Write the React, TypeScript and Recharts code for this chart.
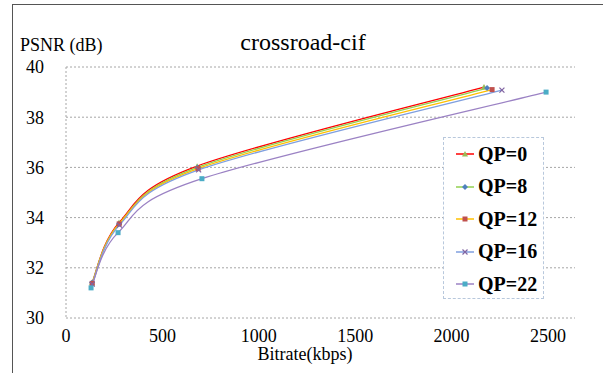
import React from 'react';
import {
  LineChart,
  Line,
  XAxis,
  YAxis,
  CartesianGrid,
} from 'recharts';

// bitrate (kbps) and PSNR (dB) per QP setting
const qp0Bitrate = [135, 275, 680, 2168];
const qp0Psnr = [31.4, 33.8, 36.05, 39.2];
const qp8Bitrate = [135, 275, 682, 2184];
const qp8Psnr = [31.4, 33.75, 36.0, 39.16];
const qp12Bitrate = [136, 276, 685, 2210];
const qp12Psnr = [31.38, 33.75, 35.95, 39.1];
const qp16Bitrate = [136, 277, 688, 2261];
const qp16Psnr = [31.35, 33.7, 35.9, 39.08];
const qp22Bitrate = [130, 270, 705, 2490];
const qp22Psnr = [31.2, 33.4, 35.55, 39.0];

const xTicks = [0, 500, 1000, 1500, 2000, 2500];
const yTicks = [30, 32, 34, 36, 38, 40];

const W = 605;
const H = 373;
const serif = 'Liberation Serif';

type Marker = 'triangle' | 'diamond' | 'square' | 'cross';

const series = [
  { name: 'QP=0', x: qp0Bitrate, y: qp0Psnr, line: '#ff0000', dot: '#9bbb59', marker: 'triangle' as Marker },
  { name: 'QP=8', x: qp8Bitrate, y: qp8Psnr, line: '#92d050', dot: '#4f81bd', marker: 'diamond' as Marker },
  { name: 'QP=12', x: qp12Bitrate, y: qp12Psnr, line: '#ffc000', dot: '#c0504d', marker: 'square' as Marker },
  { name: 'QP=16', x: qp16Bitrate, y: qp16Psnr, line: '#7f9fdf', dot: '#8064a2', marker: 'cross' as Marker },
  { name: 'QP=22', x: qp22Bitrate, y: qp22Psnr, line: '#9b82c4', dot: '#4bacc6', marker: 'square' as Marker },
];

// Excel-style smoothed line (Catmull-Rom as cubic beziers)
function excelSmooth(context: any) {
  let pts: number[][] = [];
  return {
    areaStart() {},
    areaEnd() {},
    lineStart() {
      pts = [];
    },
    point(x: number, y: number) {
      pts.push([+x, +y]);
    },
    lineEnd() {
      if (!pts.length) return;
      context.moveTo(pts[0][0], pts[0][1]);
      for (let i = 0; i < pts.length - 1; i++) {
        const p0 = pts[i - 1] || pts[i];
        const p1 = pts[i];
        const p2 = pts[i + 1];
        const p3 = pts[i + 2] || p2;
        context.bezierCurveTo(
          p1[0] + (p2[0] - p0[0]) / 6,
          p1[1] + (p2[1] - p0[1]) / 6,
          p2[0] - (p3[0] - p1[0]) / 6,
          p2[1] - (p3[1] - p1[1]) / 6,
          p2[0],
          p2[1],
        );
      }
    },
  };
}

function MarkerShape({ cx, cy, kind, color }: { cx: number; cy: number; kind: Marker; color: string }) {
  if (cx == null || cy == null) return null;
  if (kind === 'triangle') {
    return <path d={`M${cx},${cy - 3}L${cx + 3},${cy + 2.5}L${cx - 3},${cy + 2.5}Z`} fill={color} />;
  }
  if (kind === 'diamond') {
    return <path d={`M${cx},${cy - 3}L${cx + 3},${cy}L${cx},${cy + 3}L${cx - 3},${cy}Z`} fill={color} />;
  }
  if (kind === 'cross') {
    return (
      <path
        d={`M${cx - 2.5},${cy - 2.5}L${cx + 2.5},${cy + 2.5}M${cx + 2.5},${cy - 2.5}L${cx - 2.5},${cy + 2.5}`}
        stroke={color}
        strokeWidth={1.2}
      />
    );
  }
  return <rect x={cx - 2.5} y={cy - 2.5} width={5} height={5} fill={color} />;
}

function LegendBox() {
  return (
    <div
      style={{
        position: 'absolute',
        left: 443,
        top: 137,
        width: 101,
        height: 162,
        border: '1px dashed #b8c8dc',
        background: '#fff',
        boxSizing: 'border-box',
      }}
    >
      {series.map((s, i) => (
        <div
          key={s.name}
          style={{
            position: 'absolute',
            left: 11,
            top: 4 + i * 32.5,
            height: 24,
            display: 'flex',
            alignItems: 'center',
          }}
        >
          <svg width={20} height={10} style={{ marginRight: 3 }}>
            <line x1={1} y1={5} x2={19} y2={5} stroke={s.line} strokeWidth={1.5} />
            <MarkerShape cx={10} cy={5} kind={s.marker} color={s.dot} />
          </svg>
          <span style={{ fontFamily: serif, fontWeight: 'bold', fontSize: 20, color: '#000' }}>{s.name}</span>
        </div>
      ))}
    </div>
  );
}

export default function App() {
  return (
    <div style={{ position: 'absolute', left: 0, top: 0, width: W, height: H, background: '#fff' }}>
      <div
        style={{
          position: 'absolute',
          left: 12,
          top: 4,
          width: W - 14,
          height: H - 4,
          borderLeft: '1.5px solid #555',
          borderTop: '1.5px solid #555',
          boxSizing: 'border-box',
        }}
      />
      <div style={{ position: 'absolute', left: 20, top: 35, fontFamily: serif, fontSize: 18 }}>PSNR (dB)</div>
      <div
        style={{
          position: 'absolute',
          left: 193,
          width: 220,
          top: 29,
          textAlign: 'center',
          fontFamily: serif,
          fontSize: 24,
        }}
      >
        crossroad-cif
      </div>
      <div
        style={{
          position: 'absolute',
          left: 205,
          width: 200,
          top: 344,
          textAlign: 'center',
          fontFamily: serif,
          fontSize: 18,
        }}
      >
        Bitrate(kbps)
      </div>
      <div style={{ position: 'absolute', left: 0, top: 0 }}>
        <LineChart width={W} height={H} margin={{ top: 67, right: 30, bottom: 0, left: 0 }}>
          <CartesianGrid vertical={false} stroke="#a6a6a6" strokeDasharray="2 2" />
          <XAxis
            type="number"
            dataKey="x"
            domain={[0, 2640]}
            ticks={xTicks}
            allowDataOverflow
            axisLine={false}
            tickLine={false}
            tickSize={0}
            tickMargin={11}
            tick={{ fontFamily: serif, fontSize: 18, fill: '#000' }}
            height={55}
          />
          <YAxis
            type="number"
            domain={[30, 40]}
            ticks={yTicks}
            width={66}
            axisLine={{ stroke: '#a6a6a6', strokeDasharray: '2 2' }}
            tickLine={false}
            tickSize={0}
            tickMargin={22}
            tick={{ fontFamily: serif, fontSize: 18, fill: '#000' }}
          />
          {series.map((s) => (
            <Line
              key={s.name}
              data={s.x.map((x, i) => ({ x, y: s.y[i] }))}
              dataKey="y"
              type={excelSmooth as any}
              stroke={s.line}
              strokeWidth={1.3}
              isAnimationActive={false}
              dot={(p: any) => <MarkerShape key={`${s.name}-${p.index}`} cx={p.cx} cy={p.cy} kind={s.marker} color={s.dot} />}
              activeDot={false}
            />
          ))}
        </LineChart>
      </div>
      <LegendBox />
    </div>
  );
}
